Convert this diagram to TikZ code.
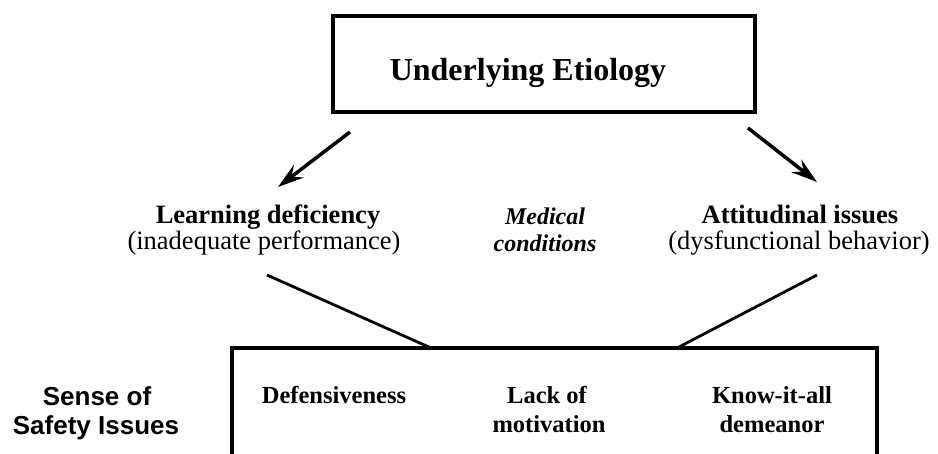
\documentclass[tikz,border=0pt]{standalone}
\usepackage{fontspec}
\setmainfont{Liberation Serif}
\newfontfamily\sansfam{Liberation Sans}
\usetikzlibrary{arrows.meta}
\begin{document}
\begin{tikzpicture}[x=1pt,y=-1pt,
  boxline/.style={line width=3.2pt},
  arr/.style={line width=3.5pt,-{Stealth[length=26pt,width=16pt,inset=9pt]}},
  conn/.style={line width=2.8pt},
  lbl/.style={inner sep=0pt,anchor=base},
  titlefont/.style={font=\bfseries\fontsize{32}{32}\selectfont},
  headb/.style={font=\bfseries\fontsize{26.5}{26}\selectfont},
  headr/.style={font=\fontsize{26.5}{26}\selectfont},
  headbi/.style={font=\bfseries\itshape\fontsize{24}{24}\selectfont},
  sidefont/.style={font=\sansfam\bfseries\fontsize{26}{26}\selectfont},
  itemfont/.style={font=\bfseries\fontsize{24.5}{24}\selectfont}]
\useasboundingbox (0,0) rectangle (938,453);
\clip (0,0) rectangle (938,453);
\fill[white] (0,0) rectangle (938,453);

% top box
\node[draw,boxline,minimum width=422pt,minimum height=96pt,inner sep=0pt] (top) at (544,64) {};
\node[lbl,titlefont] (toptext) at (528,80) {Underlying Etiology};

% arrows
\coordinate (la0) at (350,132);
\coordinate (la1) at (278,187);
\coordinate (ra0) at (748,128);
\coordinate (ra1) at (817,182);
\draw[arr] (la0) -- (la1);
\draw[arr] (ra0) -- (ra1);

% middle labels
\node[lbl,headb] (learn) at (268,223) {Learning deficiency};
\node[lbl,headr] (learnsub) at (264,249) {(inadequate performance)};
\node[lbl,headbi] (med) at (545,224) {Medical};
\node[lbl,headbi] (cond) at (545,251) {conditions};
\node[lbl,headb] (att) at (800,223) {Attitudinal issues};
\node[lbl,headr] (attsub) at (799,249) {(dysfunctional behavior)};

% bottom box (open at bottom)
\coordinate (bbl) at (232,470);
\coordinate (bbtl) at (232,348);
\coordinate (bbtr) at (877,348);
\coordinate (bbr) at (877,470);
\draw[boxline] (bbl) -- (bbtl) -- (bbtr) -- (bbr);

% connectors
\coordinate (ll0) at (267,275);
\coordinate (ll1) at (431,348);
\coordinate (rl0) at (817,275);
\coordinate (rl1) at (677,348);
\draw[conn] (ll0) -- (ll1);
\draw[conn] (rl0) -- (rl1);

% side label
\node[lbl,sidefont] (sense1) at (97,405) {Sense of};
\node[lbl,sidefont] (sense2) at (96,434) {Safety Issues};

% items
\node[lbl,itemfont] (def) at (334,403) {Defensiveness};
\node[lbl,itemfont] (lack1) at (547,403) {Lack of};
\node[lbl,itemfont] (lack2) at (549,432) {motivation};
\node[lbl,itemfont] (know1) at (772,403) {Know-it-all};
\node[lbl,itemfont] (know2) at (772,432) {demeanor};
\end{tikzpicture}
\end{document}
